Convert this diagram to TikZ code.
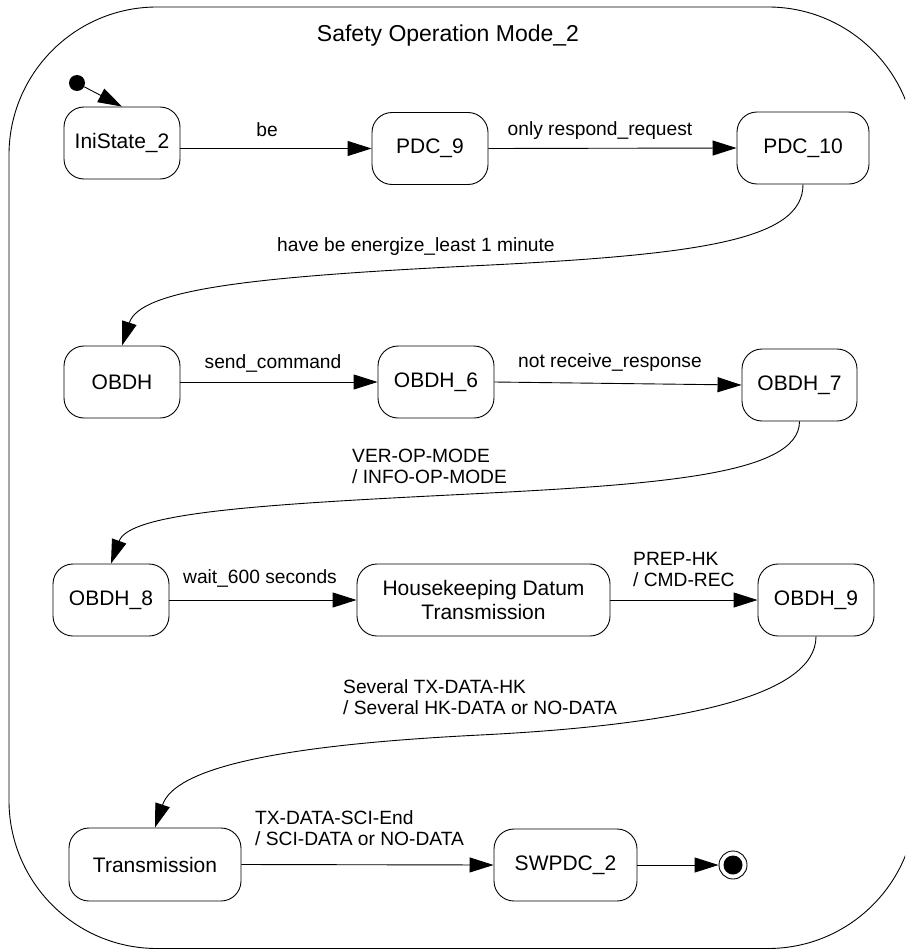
\documentclass[tikz,border=0pt]{standalone}
\usepackage{fontspec}
\setmainfont{Liberation Sans}
\usetikzlibrary{arrows.meta}
\begin{document}
\begin{tikzpicture}[x=1pt,y=-1pt,
  state/.style={draw, rounded corners=20pt, line width=0.9pt, minimum height=72pt,
    minimum width=116pt, inner sep=0pt, align=center, font=\fontsize{21}{24}\selectfont},
  trans/.style={line width=0.9pt, -{Triangle[length=24pt,width=15pt]}},
  lbl/.style={font=\fontsize{19.2}{21.5}\selectfont, inner sep=0pt, align=left},
  final/.style={circle, draw, line width=0.9pt, minimum size=28pt, inner sep=0pt,
    path picture={\fill (path picture bounding box.center) circle (9.5pt);}},
]
\useasboundingbox (0,0) rectangle (905,950);

% composite state frame
\begin{scope}
  \clip (0,0) rectangle (905,950);
  \draw[line width=0.9pt, rounded corners=148pt] (9,7) rectangle (916,948.5);
\end{scope}
\node[font=\fontsize{23}{26}\selectfont, inner sep=0pt, anchor=base] (title) at (448,41.7) {Safety Operation Mode\_2};

% states
\node[circle, fill, minimum size=16pt, inner sep=0pt] (init) at (77,83) {};
\node[state] (ini) at (122,143) {IniState\_2};
\node[state] (pdc9) at (430,148.5) {PDC\_9};
\node[state, minimum width=132pt] (pdc10) at (803,148) {PDC\_10};
\node[state] (obdh) at (122,382) {OBDH};
\node[state] (obdh6) at (436,382) {OBDH\_6};
\node[state, minimum width=115pt] (obdh7) at (799.5,385) {OBDH\_7};
\node[state] (obdh8) at (111,600) {OBDH\_8};
\node[state, minimum width=253pt] (hk) at (483.5,600) {Housekeeping Datum\\Transmission};
\node[state] (obdh9) at (816,600) {OBDH\_9};
\node[state, minimum width=172pt, minimum height=73pt] (trans) at (155,864.5) {Transmission};
\node[state, minimum width=143pt] (swpdc2) at (565.5,865) {SWPDC\_2};
\node[final] (fin) at (733,865) {};

% bend points of the long transitions
\coordinate (m1) at (470,266);
\coordinate (m2) at (450,495);
\coordinate (m3) at (480,735);

% transitions
\draw[trans] (init) -- (ini.north);
\draw[trans] (ini.east |- pdc9.west) -- (pdc9.west);
\draw[trans] (pdc9.east) -- (pdc10.west);
\draw[trans] (pdc10.south) .. controls +(0,56) and +(230,-11) .. (m1)
  .. controls +(-220,11) and +(18,-56) .. (obdh.north);
\draw[trans] (obdh.east) -- (obdh6.west);
\draw[trans] (obdh6.east) -- (obdh7.west);
\draw[trans] (obdh7.south) .. controls +(0,55) and +(200,-10) .. (m2)
  .. controls +(-200,10) and +(18,-50) .. (obdh8.north);
\draw[trans] (obdh8.east) -- (hk.west);
\draw[trans] (hk.east) -- (obdh9.west);
\draw[trans] (obdh9.south) .. controls +(0,60) and +(200,-10) .. (m3)
  .. controls +(-200,10) and +(20,-60) .. (trans.north);
\draw[trans] (trans.east) -- (swpdc2.west);
\draw[trans] (swpdc2.east) -- (fin.west);

% transition labels (multi-line ones are placed by the baseline of their last line)
\node[lbl, anchor=base] (l1) at (267,136.7) {be};
\node[lbl, anchor=base] (l2) at (600,135) {only respond\_request};
\node[lbl, anchor=base west] (l3) at (277,251) {have be energize\_least 1 minute};
\node[lbl, anchor=base] (l4) at (273,368) {send\_command};
\node[lbl, anchor=base] (l5) at (610,367) {not receive\_response};
\node[lbl, anchor=base west] (l6) at (352,483.5) {VER-OP-MODE\\/ INFO-OP-MODE};
\node[lbl, anchor=base] (l7) at (260,583) {wait\_600 seconds};
\node[lbl, anchor=base west] (l8) at (633,586.5) {PREP-HK\\/ CMD-REC};
\node[lbl, anchor=base west] (l9) at (343,714.5) {Several TX-DATA-HK\\/ Several HK-DATA or NO-DATA};
\node[lbl, anchor=base west] (l10) at (255,845.5) {TX-DATA-SCI-End\\/ SCI-DATA or NO-DATA};
\end{tikzpicture}
\end{document}
